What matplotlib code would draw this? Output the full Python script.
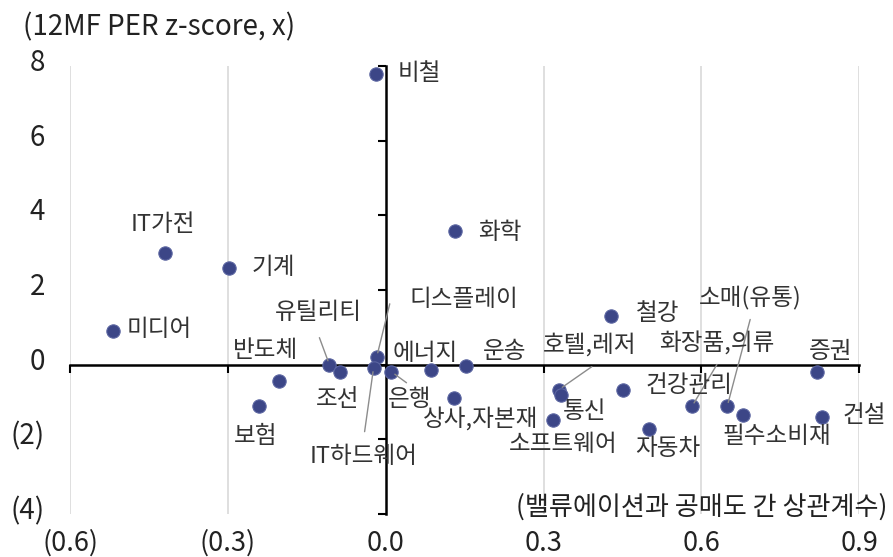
import matplotlib
matplotlib.use("Agg")
import matplotlib.pyplot as plt
from matplotlib.transforms import blended_transform_factory

plt.rcParams['font.family'] = ['Noto Sans CJK KR', 'DejaVu Sans']

# 업종별 밸류에이션-공매도 상관계수(x)와 12MF PER z-score(y)
sectors = ["비철", "IT가전", "기계", "화학", "미디어", "철강", "유틸리티", "조선",
           "반도체", "보험", "디스플레이", "IT하드웨어", "은행", "에너지", "운송",
           "상사,자본재", "호텔,레저", "통신", "소프트웨어", "건강관리", "자동차",
           "화장품,의류", "소매(유통)", "필수소비재", "증권", "건설"]
corr = [-0.019, -0.420, -0.297, 0.131, -0.518, 0.428, -0.107, -0.087,
        -0.203, -0.240, -0.017, -0.023, 0.011, 0.087, 0.152,
        0.129, 0.329, 0.333, 0.318, 0.451, 0.500,
        0.582, 0.649, 0.679, 0.820, 0.829]
zscore = [7.78, 2.99, 2.59, 3.58, 0.91, 1.31, 0.00, -0.19,
          -0.45, -1.12, 0.21, -0.08, -0.19, -0.13, -0.03,
          -0.88, -0.67, -0.80, -1.47, -0.67, -1.71,
          -1.12, -1.12, -1.34, -0.19, -1.39]

x_ticks = [-0.6, -0.3, 0.0, 0.3, 0.6, 0.9]
x_ticklabels = ["(0.6)", "(0.3)", "0.0", "0.3", "0.6", "0.9"]
y_ticks = [8, 6, 4, 2, 0, -2, -4]
y_ticklabels = ["8", "6", "4", "2", "0", "(2)", "(4)"]

# 라벨 위치 (점 기준 픽셀 오프셋, 정렬, 지시선 시작점)
label_pos = {
    "비철": (22, 1, "left", None),
    "IT가전": (-2, 29, "center", None),
    "기계": (22, 0, "left", None),
    "화학": (23, -1, "left", None),
    "미디어": (13, 1, "left", None),
    "철강": (25, 2, "left", None),
    "유틸리티": (-11, 52, "center", (-10, 27)),
    "조선": (-2, -28, "center", None),
    "반도체": (-13, 31, "center", None),
    "보험": (-4, -30, "center", None),
    "디스플레이": (33, 57, "left", (13, 53)),
    "IT하드웨어": (-10, -89, "center", (-9, -64)),
    "은행": (-4, -28, "left", (15, -11)),
    "에너지": (-6, 16, "center", None),
    "운송": (17, 14, "left", None),
    "상사,자본재": (27, -21, "center", None),
    "호텔,레저": (31, 45, "center", (33, 23)),
    "통신": (2, -17, "left", None),
    "소프트웨어": (10, -25, "center", None),
    "건강관리": (22, 4, "left", None),
    "자동차": (19, -20, "center", None),
    "화장품,의류": (25, 64, "center", (25, 42)),
    "소매(유통)": (23, 109, "center", (23, 87)),
    "필수소비재": (34, -22, "center", None),
    "증권": (13, 20, "center", None),
    "건설": (21, 1, "left", None),
}

fig = plt.figure(figsize=(8.93, 5.57), dpi=100)
ax = fig.add_axes([0.0784, 0.0772, 0.8838, 0.8043])
ax.set_xlim(-0.6, 0.9)
ax.set_ylim(-4, 8)

for xv in x_ticks:
    if xv != 0:
        ax.axvline(xv, color="#d9d9d9", linewidth=1.2, zorder=0)

ax.spines['left'].set_position(('data', 0))
ax.spines['bottom'].set_position(('data', 0))
ax.spines['top'].set_visible(False)
ax.spines['right'].set_visible(False)
for side in ['left', 'bottom']:
    ax.spines[side].set_linewidth(1.8)
    ax.spines[side].set_color('black')
ax.set_xticks(x_ticks)
ax.set_yticks(y_ticks)
ax.tick_params(direction='out', length=6, width=1.5, labelleft=False, labelbottom=False)

trans_y = blended_transform_factory(ax.transAxes, ax.transData)
for yv, lab in zip(y_ticks, y_ticklabels):
    ax.annotate(lab, (-0.032, yv), xycoords=trans_y, xytext=(0, 3),
                textcoords='offset pixels', ha='right', va='center',
                fontsize=20, color='#222222')
trans_x = blended_transform_factory(ax.transData, fig.transFigure)
for xv, lab in zip(x_ticks, x_ticklabels):
    ax.text(xv, 0.011, lab, transform=trans_x, ha='center', va='baseline',
            fontsize=19.5, color='#222222')

ax.scatter(corr, zscore, s=92, color='#3c4687', edgecolors='#5a64a0',
           linewidths=0.8, zorder=3, clip_on=False)

for name, xv, yv in zip(sectors, corr, zscore):
    dx, dy, ha, lead = label_pos[name]
    ax.annotate(name, (xv, yv), xytext=(dx, dy), textcoords='offset pixels',
                ha=ha, va='center', fontsize=17, color='#333333', zorder=4)
    if lead is not None:
        ax.annotate("", (xv, yv), xytext=lead, textcoords='offset pixels',
                    arrowprops=dict(arrowstyle='-', color='#8c8c8c', lw=1,
                                    shrinkA=0, shrinkB=3))

fig.text(0.026, 0.951, "(12MF PER z-score, x)", ha='left', va='center',
         fontsize=20, color='#222222')
fig.text(0.994, 0.09, "(밸류에이션과 공매도 간 상관계수)", ha='right', va='center',
         fontsize=18.8, color='#222222')

fig.savefig("out.png", dpi=100)
